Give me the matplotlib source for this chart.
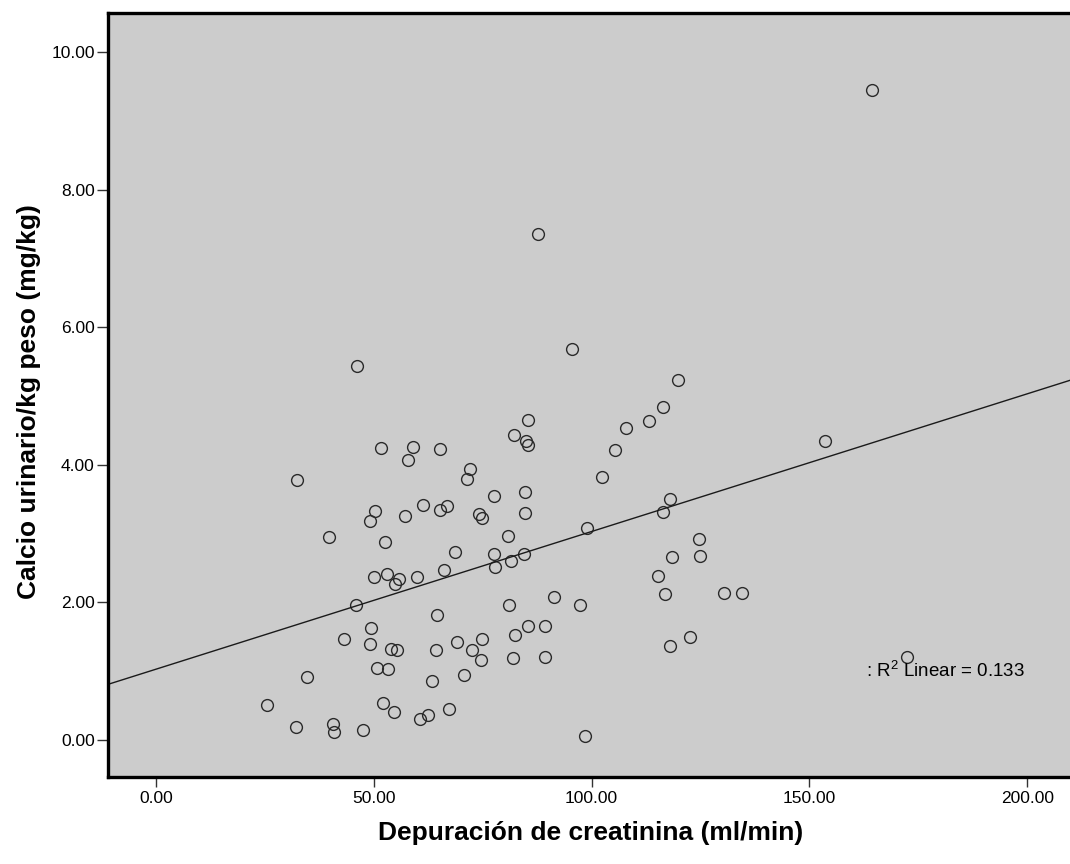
import numpy as np
import matplotlib
matplotlib.use("Agg")
import matplotlib.pyplot as plt

plt.rcParams["mathtext.fontset"] = "custom"
plt.rcParams["mathtext.rm"] = "Liberation Sans"
plt.rcParams["font.family"] = ["Liberation Sans", "DejaVu Sans"]

# Depuración de creatinina (ml/min)
depuracion = [164.4, 87.7, 95.5, 46.2, 119.8, 116.3, 85.3, 113.2, 107.8, 82.1,
              84.9, 153.6, 85.5, 51.7, 58.9, 65.3, 105.3, 57.8, 72.2, 102.4,
              71.3, 32.4, 84.8, 77.6, 118.0, 61.2, 66.9, 65.2, 50.4, 116.3,
              84.8, 74.2, 57.2, 74.9, 49.1, 99.0, 80.8, 39.7, 124.7, 52.6,
              68.7, 77.5, 84.4, 124.8, 118.5, 81.4, 77.8, 66.2, 53.0, 115.3,
              50.1, 59.9, 55.9, 54.8, 130.4, 134.6, 116.8, 91.3, 45.9, 81.1,
              97.3, 64.6, 85.4, 89.3, 49.3, 82.5, 122.6, 43.1, 74.9, 69.0,
              49.1, 117.9, 54.0, 55.3, 64.3, 72.5, 89.2, 172.4, 81.9, 74.6,
              50.7, 53.2, 70.7, 34.7, 63.3, 25.6, 52.2, 67.3, 54.6, 62.4,
              60.7, 40.6, 32.1, 47.5, 40.9, 98.6]

# Calcio urinario/kg peso (mg/kg)
calcio = [9.45, 7.35, 5.69, 5.44, 5.23, 4.84, 4.65, 4.64, 4.54, 4.44,
          4.35, 4.34, 4.29, 4.24, 4.26, 4.23, 4.22, 4.07, 3.94, 3.82,
          3.79, 3.78, 3.60, 3.54, 3.50, 3.42, 3.40, 3.34, 3.33, 3.32,
          3.30, 3.28, 3.26, 3.23, 3.18, 3.08, 2.97, 2.95, 2.92, 2.88,
          2.73, 2.70, 2.70, 2.67, 2.66, 2.60, 2.52, 2.47, 2.41, 2.39,
          2.37, 2.37, 2.34, 2.26, 2.13, 2.13, 2.12, 2.08, 1.96, 1.96,
          1.96, 1.81, 1.66, 1.66, 1.62, 1.52, 1.49, 1.47, 1.47, 1.42,
          1.40, 1.36, 1.32, 1.31, 1.31, 1.31, 1.21, 1.21, 1.19, 1.16,
          1.04, 1.03, 0.94, 0.92, 0.85, 0.50, 0.53, 0.45, 0.41, 0.36,
          0.30, 0.23, 0.19, 0.15, 0.12, 0.06]

x_ticks = [0, 50, 100, 150, 200]
y_ticks = [0, 2, 4, 6, 8, 10]
r2_text = ": R$^{2}$ Linear = 0.133"

x = np.array(depuracion)
y = np.array(calcio)
xlim = (-11.0, 210.5)
ylim = (-0.54, 10.57)

fig = plt.figure(figsize=(10.70, 8.64), dpi=100)
ax = fig.add_axes([108 / 1070, 1 - 777 / 864, 965 / 1070, (777 - 13) / 864])
ax.set_facecolor("#cccccc")

ax.plot(x, y, linestyle="none", marker="o", markersize=8.5,
        markerfacecolor="none", markeredgecolor="#2a2a2a", markeredgewidth=1.0)

# recta de regresión lineal
b, a = np.polyfit(x, y, 1)
xs = np.array(xlim)
ax.plot(xs, a + b * xs, color="#1a1a1a", linewidth=1.0)

ax.text(163, 1.0, r2_text, fontsize=13.5, va="center", ha="left")

ax.set_xlim(*xlim)
ax.set_ylim(*ylim)
ax.set_xticks(x_ticks)
ax.set_yticks(y_ticks)
ax.set_xticklabels(["%.2f" % v for v in x_ticks], fontsize=12.5)
ax.set_yticklabels(["%.2f" % v for v in y_ticks], fontsize=12.5)
ax.tick_params(axis="x", direction="out", length=7, width=1, color="#333333", pad=3)
ax.tick_params(axis="y", direction="out", length=8, width=1, color="#333333", pad=1.5)

for s in ax.spines.values():
    s.set_linewidth(2.4)
    s.set_color("black")

lab = dict(fontweight="bold", fontsize=19)
ax.set_xlabel("Depuración de creatinina (ml/min)", **lab)
ax.set_ylabel("Calcio urinario/kg peso (mg/kg)", **lab)
ax.xaxis.set_label_coords(0.5, -(821 - 777) / 764)
ax.yaxis.set_label_coords(-(108 - 41) / 965, (777 - 402) / 764)

fig.savefig("out.png", dpi=100, facecolor="white")
